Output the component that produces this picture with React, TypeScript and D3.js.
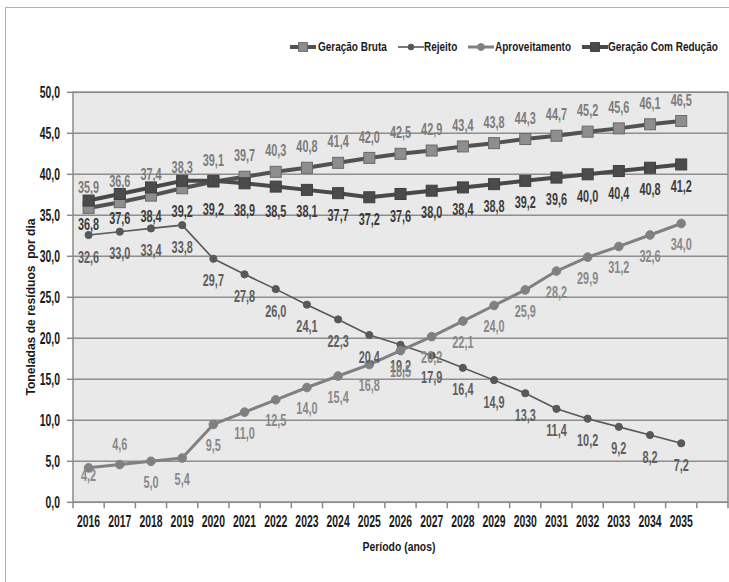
import React from "react";
import * as d3 from "d3";

const years = [
  "2016","2017","2018","2019","2020","2021","2022","2023","2024","2025",
  "2026","2027","2028","2029","2030","2031","2032","2033","2034","2035",
];
const geracaoBruta = [35.9,36.6,37.4,38.3,39.1,39.7,40.3,40.8,41.4,42.0,42.5,42.9,43.4,43.8,44.3,44.7,45.2,45.6,46.1,46.5];
const rejeito = [32.6,33.0,33.4,33.8,29.7,27.8,26.0,24.1,22.3,20.4,19.2,17.9,16.4,14.9,13.3,11.4,10.2,9.2,8.2,7.2];
const aproveitamento = [4.2,4.6,5.0,5.4,9.5,11.0,12.5,14.0,15.4,16.8,18.5,20.2,22.1,24.0,25.9,28.2,29.9,31.2,32.6,34.0];
const geracaoComReducao = [36.8,37.6,38.4,39.2,39.2,38.9,38.5,38.1,37.7,37.2,37.6,38.0,38.4,38.8,39.2,39.6,40.0,40.4,40.8,41.2];
const yTicks = [0,5,10,15,20,25,30,35,40,45,50];
const seriesNames = ["Geração Bruta","Rejeito","Aproveitamento","Geração Com Redução"];
const xTitle = "Período (anos)";
const yTitle = "Toneladas de resíduos  por dia";

const W = 729, H = 582;
const FONT = "'Liberation Sans',Arial,sans-serif";
const plot = { left: 73, right: 728, top: 92.3, bottom: 502.3 };

const fmt = (v: number) => d3.format(".1f")(v).replace(".", ",");

type TProps = {
  x: number; y: number; sx: number; size: number; fill: string;
  anchor?: "start" | "middle" | "end"; rotate?: number; children: React.ReactNode;
};
function T({ x, y, sx, size, fill, anchor = "middle", rotate = 0, children }: TProps) {
  return (
    <text
      transform={`translate(${x},${y}) rotate(${rotate}) scale(${sx},1)`}
      dy="0.35em"
      textAnchor={anchor}
      fontSize={size}
      fontWeight="bold"
      fill={fill}
      style={{ whiteSpace: "pre" }}
    >
      {children}
    </text>
  );
}

type Series = {
  name: string;
  values: number[];
  marker: "square" | "circle";
  line: string;
  lineWidth: number;
  fill: string;
  stroke: string;
  size: number;
  labelColor: string;
  labelDy: number;
  nudge: Record<number, number>;
};

const series: Series[] = [
  { name: seriesNames[0], values: geracaoBruta, marker: "square", line: "#525252", lineWidth: 4, fill: "#8e8e8e", stroke: "#6a6a6a", size: 11, labelColor: "#7c7c7c", labelDy: -21, nudge: {} },
  { name: seriesNames[1], values: rejeito, marker: "circle", line: "#585858", lineWidth: 1.6, fill: "#585858", stroke: "#585858", size: 3.6, labelColor: "#5e5e5e", labelDy: 22, nudge: {} },
  { name: seriesNames[2], values: aproveitamento, marker: "circle", line: "#808080", lineWidth: 3, fill: "#808080", stroke: "#808080", size: 4.3, labelColor: "#888888", labelDy: 21, nudge: { 0: -13, 1: -41.5 } },
  { name: seriesNames[3], values: geracaoComReducao, marker: "square", line: "#494949", lineWidth: 4, fill: "#4b4b4b", stroke: "#3f3f3f", size: 11, labelColor: "#3c3c3c", labelDy: 22, nudge: { 0: 2, 1: 2, 2: 7, 3: 9, 4: 7, 5: 5, 6: 3 } },
];

export default function App() {
  const domain = [...years, ""];
  const x = d3.scaleBand<string>().domain(domain).range([plot.left, plot.right]).padding(0);
  const y = d3.scaleLinear().domain([0, 50]).range([plot.bottom, plot.top]);
  const cx = (i: number) => (x(years[i]) as number) + x.bandwidth() / 2;
  const boundaries = d3.range(domain.length + 1).map((i) => plot.left + i * x.bandwidth());

  const legendItems = [
    { s: series[0], sx: 290, tx: 318 },
    { s: series[1], sx: 398, tx: 424 },
    { s: series[2], sx: 468, tx: 495 },
    { s: series[3], sx: 582, tx: 608 },
  ];

  const drawMarker = (s: Series, px: number, py: number, key: string | number, scale = 1) =>
    s.marker === "square" ? (
      <rect key={key} x={px - (s.size * scale) / 2} y={py - (s.size * scale) / 2} width={s.size * scale} height={s.size * scale} fill={s.fill} stroke={s.stroke} strokeWidth={1} />
    ) : (
      <circle key={key} cx={px} cy={py} r={s.size * scale} fill={s.fill} stroke={s.stroke} strokeWidth={1} />
    );

  return (
    <svg width={W} height={H} style={{ display: "block", position: "absolute", left: 0, top: 0 }} fontFamily={FONT}>
      <rect x={0} y={0} width={W} height={H} fill="#ffffff" />
      <rect x={5.5} y={7.5} width={W + 20} height={H + 20} fill="none" stroke="#b0b0b0" strokeWidth={1} />

      {/* plot background */}
      <rect x={plot.left} y={plot.top} width={plot.right - plot.left} height={plot.bottom - plot.top} fill="#e9e9e9" />
      {yTicks.map((t) => (
        <line key={"g" + t} x1={plot.left} x2={plot.right} y1={y(t)} y2={y(t)} stroke="#8e8e8e" strokeWidth={1.5} />
      ))}
      <rect x={plot.left} y={plot.top} width={plot.right - plot.left} height={plot.bottom - plot.top} fill="none" stroke="#8a8a8a" strokeWidth={1.5} />

      {/* y axis ticks & labels */}
      {yTicks.map((t) => (
        <g key={"y" + t}>
          <line x1={plot.left - 6} x2={plot.left} y1={y(t)} y2={y(t)} stroke="#8a8a8a" strokeWidth={1.5} />
          <T x={60} y={y(t)} sx={0.65} size={16} fill="#1a1a1a" anchor="end">{fmt(t)}</T>
        </g>
      ))}
      {/* x axis ticks & labels */}
      {boundaries.map((b, i) => (
        <line key={"xt" + i} x1={b} x2={b} y1={plot.bottom} y2={plot.bottom + 6} stroke="#8a8a8a" strokeWidth={1.5} />
      ))}
      {years.map((yr, i) => (
        <T key={"xl" + yr} x={cx(i)} y={521.7} sx={0.65} size={16} fill="#1a1a1a">{yr}</T>
      ))}

      {/* axis titles */}
      <T x={399} y={546.5} sx={0.8} size={13} fill="#1a1a1a">{xTitle}</T>
      <T x={30} y={307} sx={0.93} size={13} fill="#1a1a1a" rotate={-90}>{yTitle}</T>

      {/* series lines */}
      {series.map((s) => {
        const line = d3.line<number>().x((_, i) => cx(i)).y((v) => y(v));
        return <path key={"l" + s.name} d={line(s.values) || ""} fill="none" stroke={s.line} strokeWidth={s.lineWidth} strokeLinejoin="round" />;
      })}
      {/* markers */}
      {series.map((s) => (
        <g key={"m" + s.name}>{s.values.map((v, i) => drawMarker(s, cx(i), y(v), i))}</g>
      ))}
      {/* labels */}
      {series.map((s) => (
        <g key={"t" + s.name}>
          {s.values.map((v, i) => (
            <T key={i} x={cx(i)} y={y(v) + s.labelDy + (s.nudge[i] || 0)} sx={0.68} size={16} fill={s.labelColor}>
              {fmt(v)}
            </T>
          ))}
        </g>
      ))}

      {/* legend */}
      {legendItems.map(({ s, sx, tx }) => (
        <g key={"lg" + s.name}>
          <line x1={sx} x2={sx + 26} y1={47} y2={47} stroke={s.line} strokeWidth={s.lineWidth} />
          {drawMarker(s, sx + 13, 47, "lm", 0.8)}
          <T x={tx} y={47} sx={0.8} size={12.5} fill="#1a1a1a" anchor="start">{s.name}</T>
        </g>
      ))}
    </svg>
  );
}
